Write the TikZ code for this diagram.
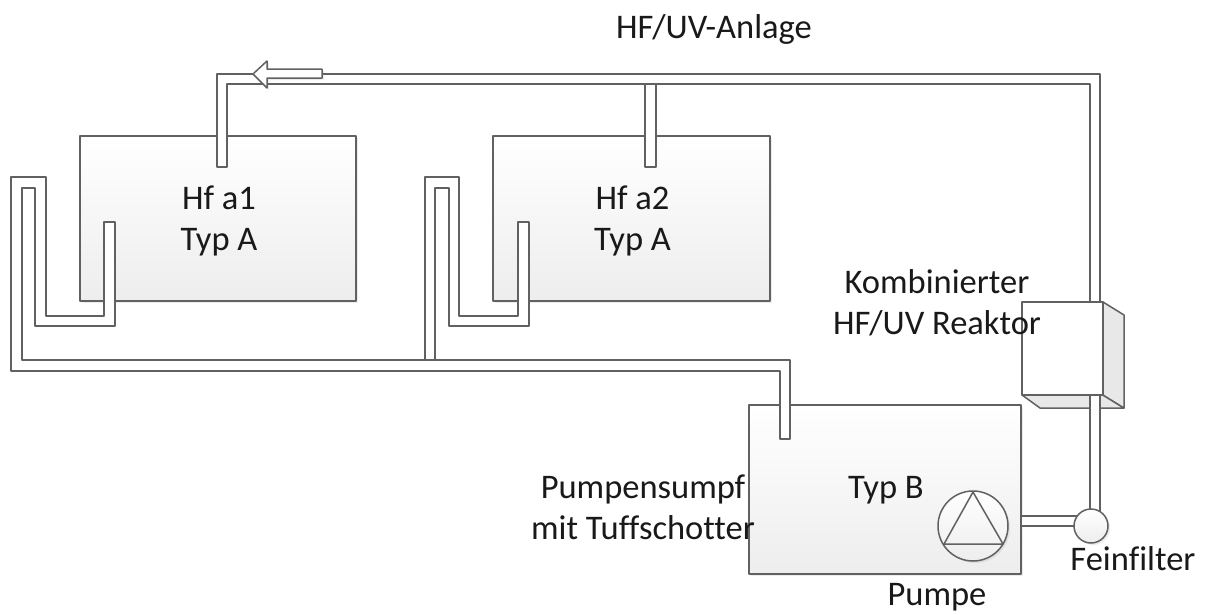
\documentclass[tikz,border=0pt]{standalone}
\usepackage{fontspec}
\setmainfont[Ligatures=NoCommon]{Carlito}
\usetikzlibrary{shadows}

\begin{document}
\begin{tikzpicture}[x=1pt,y=-1pt,
	line/.style={draw=black!62,line width=1.5pt,line join=round},
	tank/.style={line,rectangle,inner sep=0pt,top color=white,bottom color=black!7,
		drop shadow={opacity=0.15,shadow xshift=2pt,shadow yshift=-2pt}},
	pipe/.style={line,fill=white},
	facet/.style={line,fill=black!9},
	label/.style={inner sep=0pt,align=center,text=black!90,font=\fontsize{34.5}{41}\selectfont}]
	\useasboundingbox[fill=white] (0,0) rectangle (1208,614);
	\node[tank,minimum width=276pt,minimum height=165pt] (a1) at (218,218.5) {};
	\node[tank,minimum width=277pt,minimum height=165pt] (a2) at (631.5,218.5) {};
	\node[tank,minimum width=272pt,minimum height=169pt] (sumpf) at (885,489.5) {};
	\draw[pipe] (217,167) -- (217,74) -- (1100,74) -- (1100,302) -- (1090,302) -- (1090,84) -- (656,84)
		-- (656,167) -- (645,167) -- (645,84) -- (227,84) -- (227,167) -- cycle;
	\draw[line] (645,84) -- (656,84);
	\draw[pipe] (11,371) -- (11,177) -- (46,177) -- (46,316) -- (104,316) -- (104,222) -- (115,222) -- (115,326)
		-- (35,326) -- (35,188) -- (22,188) -- (22,360) -- (425,360) -- (425,177) -- (459,177) -- (459,316)
		-- (518,316) -- (518,222) -- (529,222) -- (529,326) -- (449,326) -- (449,188) -- (435,188) -- (435,360)
		-- (790,360) -- (790,439) -- (780,439) -- (780,371) -- cycle;
	\draw[line] (425,360) -- (435,360);
	\draw[facet] (1022,395) -- (1040,408) -- (1124,408) -- (1103,395) -- cycle;
	\draw[facet] (1103,302) -- (1124,315) -- (1124,408) -- (1103,395) -- cycle;
	\node[line,fill=white,rectangle,inner sep=0pt,minimum width=81pt,minimum height=93pt] (reaktor) at (1062.5,348.5) {};
	\draw[pipe] (1090,395) rectangle (1100,520);
	\draw[pipe] (1021,516) rectangle (1078,526);
	\node[tank,circle,minimum size=34pt] (filter) at (1091,526) {};
	\node[tank,circle,minimum size=70pt] (pumpe) at (973,526) {};
	\draw[line] (973,492) -- (1003,544) -- (944,544) -- cycle;
	\draw[line,fill=white,drop shadow={opacity=0.15,shadow xshift=2pt,shadow yshift=-2pt}]
		(322,69) -- (267,69) -- (267,61) -- (253,74) -- (267,88) -- (267,78) -- (322,78) -- cycle;
	\node[label] (a1text) at (219,220.5) {Hf a1\\Typ A};
	\node[label] (a2text) at (632.5,220.5) {Hf a2\\Typ A};
	\node[label] (anlage) at (714,29) {HF/UV-Anlage};
	\node[label] (kombi) at (937,303) {Kombinierter\\HF/UV Reaktor};
	\node[label] (typb) at (886,490) {Typ B};
	\node[label] (tuff) at (643,507) {Pumpensumpf\\mit Tuffschotter};
	\node[label] (fein) at (1133,559) {Feinfilter};
	\node[label] (pumpentext) at (937,597) {Pumpe};
\end{tikzpicture}
\end{document}
